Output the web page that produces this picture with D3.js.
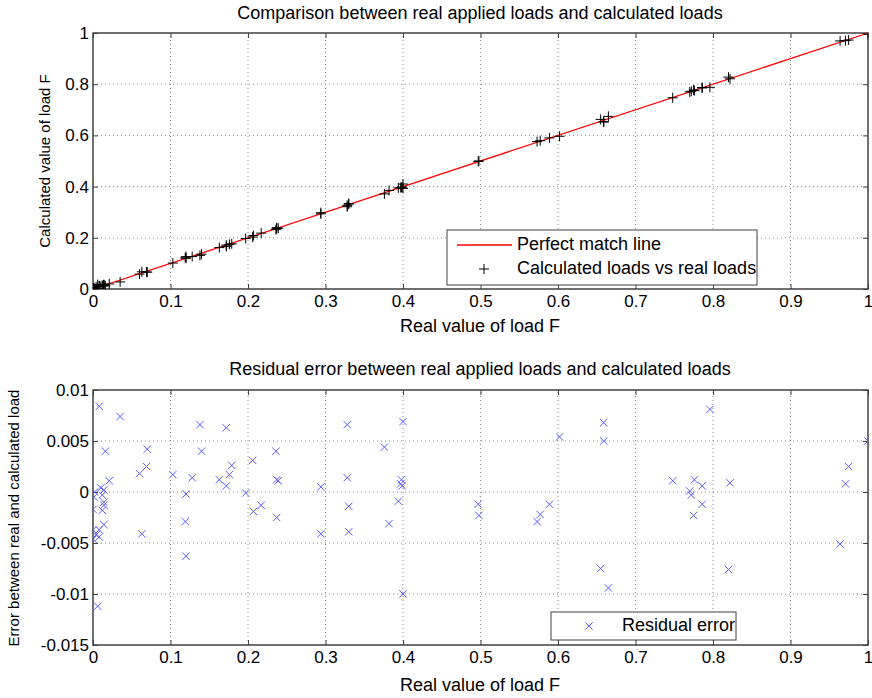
<!DOCTYPE html>
<html>
<head>
<meta charset="utf-8">
<script src="https://cdn.jsdelivr.net/npm/d3@7"></script>
<style>
  body { margin: 0; background: #fff; }
  svg text { font-family: "Liberation Sans", Arial, sans-serif; fill: #000; }
</style>
</head>
<body>
<div id="chart"></div>
<script>
// real applied load (normalised) for each test case
const realLoad = [
  0.002, 0.001, 0.000, 0.010, 0.014, 0.012, 0.014, 0.014, 0.012, 0.014,
  0.008, 0.000, 0.004, 0.008, 0.000, 0.021, 0.016, 0.008, 0.035, 0.006,
  0.070, 0.069, 0.060, 0.063, 0.103, 0.128, 0.120, 0.119, 0.120, 0.138,
  0.140, 0.172, 0.179, 0.163, 0.176, 0.172, 0.197, 0.206, 0.217, 0.207,
  0.236, 0.237, 0.239, 0.237, 0.294, 0.294, 0.328, 0.328, 0.330, 0.330,
  0.376, 0.382, 0.394, 0.398, 0.397, 0.399, 0.400, 0.400, 0.497, 0.498,
  0.573, 0.577, 0.589, 0.602, 0.659, 0.659, 0.655, 0.665, 0.748, 0.770,
  0.772, 0.775, 0.776, 0.786, 0.786, 0.796, 0.822, 0.820, 0.964, 0.971,
  0.975, 1.000
];

// load returned by the model
const calcLoad = [
  0.0020, 0.0015, 0.0017, 0.0096, 0.0138, 0.0123, 0.0150, 0.0153, 0.0138, 0.0172,
  0.0117, 0.0037, 0.0082, 0.0124, 0.0046, 0.0199, 0.0120, -0.0004, 0.0276, 0.0172,
  0.0658, 0.0665, 0.0582, 0.0671, 0.1013, 0.1266, 0.1202, 0.1219, 0.1263, 0.1314,
  0.1360, 0.1657, 0.1764, 0.1618, 0.1743, 0.1714, 0.1971, 0.2029, 0.2183, 0.2089,
  0.2320, 0.2358, 0.2379, 0.2395, 0.2935, 0.2981, 0.3214, 0.3266, 0.3314, 0.3339,
  0.3716, 0.3851, 0.3949, 0.3968, 0.3962, 0.3984, 0.3931, 0.4100, 0.4982, 0.5003,
  0.5759, 0.5792, 0.5902, 0.5966, 0.6522, 0.6540, 0.6625, 0.6744, 0.7469, 0.7699,
  0.7723, 0.7773, 0.7748, 0.7854, 0.7872, 0.7879, 0.8211, 0.8276, 0.9691, 0.9702,
  0.9725, 0.9950
];

// residual error (real - calculated)
const residualErr = [
  0.0000, -0.0005, -0.0017, 0.0004, 0.0002, -0.0003, -0.0010, -0.0013, -0.0018, -0.0032,
  -0.0037, -0.0037, -0.0042, -0.0044, -0.0046, 0.0011, 0.0040, 0.0084, 0.0074, -0.0112,
  0.0042, 0.0025, 0.0018, -0.0041, 0.0017, 0.0014, -0.0002, -0.0029, -0.0063, 0.0066,
  0.0040, 0.0063, 0.0026, 0.0012, 0.0017, 0.0006, -0.0001, 0.0031, -0.0013, -0.0019,
  0.0040, 0.0012, 0.0011, -0.0025, 0.0005, -0.0041, 0.0066, 0.0014, -0.0014, -0.0039,
  0.0044, -0.0031, -0.0009, 0.0012, 0.0008, 0.0006, 0.0069, -0.0100, -0.0012, -0.0023,
  -0.0029, -0.0022, -0.0012, 0.0054, 0.0068, 0.0050, -0.0075, -0.0094, 0.0011, 0.0001,
  -0.0003, -0.0023, 0.0012, 0.0006, -0.0012, 0.0081, 0.0009, -0.0076, -0.0051, 0.0008,
  0.0025, 0.0050
];

const matchLine = [0, 1];
const xTicks = [0, 0.1, 0.2, 0.3, 0.4, 0.5, 0.6, 0.7, 0.8, 0.9, 1];
const yTicksTop = [0, 0.2, 0.4, 0.6, 0.8, 1];
const yTicksBottom = [0.01, 0.005, 0, -0.005, -0.01, -0.015];

const W = 872, H = 698;
const axisColor = "#404040";
const fs = 18;      // titles, x labels, legends
const tickFs = 17;  // tick labels
const yLabFs = 15;  // rotated y labels

const svg = d3.select("#chart").append("svg")
  .attr("width", W)
  .attr("height", H);

const fmt = d => d3.format("~g")(+d.toFixed(4)).replace("−", "-");

// MATLAB-ish box axes: inward ticks on all sides, dotted grid
function drawFrame(g, x, y, xt, yt) {
  const [x0, x1] = x.range();
  const [y0, y1] = y.range(); // y0 = bottom

  // grid
  g.append("g").selectAll("line").data(xt.filter(d => d > x.domain()[0] && d < x.domain()[1]))
    .join("line")
    .attr("x1", d => x(d)).attr("x2", d => x(d))
    .attr("y1", y0).attr("y2", y1)
    .attr("stroke", "#8a8a8a").attr("stroke-width", 1)
    .attr("stroke-dasharray", "1,3");
  g.append("g").selectAll("line").data(yt.filter(d => d > y.domain()[0] && d < y.domain()[1]))
    .join("line")
    .attr("y1", d => y(d)).attr("y2", d => y(d))
    .attr("x1", x0).attr("x2", x1)
    .attr("stroke", "#8a8a8a").attr("stroke-width", 1)
    .attr("stroke-dasharray", "1,3");

  const tick = 5;
  const style = sel => {
    sel.select(".domain").remove();
    sel.selectAll("line").attr("stroke", axisColor);
    sel.selectAll("text").style("font-size", tickFs + "px")
      .attr("fill", "#000");
  };

  g.append("g").attr("transform", `translate(0,${y0})`)
    .call(d3.axisBottom(x).tickValues(xt).tickFormat(fmt).tickSizeInner(-tick).tickSizeOuter(0).tickPadding(6))
    .call(style);
  g.append("g").attr("transform", `translate(0,${y1})`)
    .call(d3.axisTop(x).tickValues(xt).tickFormat("").tickSizeInner(-tick).tickSizeOuter(0))
    .call(style);
  g.append("g").attr("transform", `translate(${x0},0)`)
    .call(d3.axisLeft(y).tickValues(yt).tickFormat(fmt).tickSizeInner(-tick).tickSizeOuter(0).tickPadding(4))
    .call(style);
  g.append("g").attr("transform", `translate(${x1},0)`)
    .call(d3.axisRight(y).tickValues(yt).tickFormat("").tickSizeInner(-tick).tickSizeOuter(0))
    .call(style);

  g.append("rect")
    .attr("x", x0).attr("y", y1)
    .attr("width", x1 - x0).attr("height", y0 - y1)
    .attr("fill", "none").attr("stroke", axisColor).attr("stroke-width", 1.5);
}

function plusPath(s) { return `M${-s},0H${s}M0,${-s}V${s}`; }
function crossPath(s) { return `M${-s},${-s}L${s},${s}M${-s},${s}L${s},${-s}`; }

const left = 93, right = 868;

// ---------- top panel ----------
const xTop = d3.scaleLinear().domain([0, 1]).range([left, right]);
const yTop = d3.scaleLinear().domain([0, 1]).range([289, 33]);
const gTop = svg.append("g");

svg.append("clipPath").attr("id", "clipTop").append("rect")
  .attr("x", left).attr("y", 33).attr("width", right - left).attr("height", 256);

drawFrame(gTop, xTop, yTop, xTicks, yTicksTop);

gTop.append("path")
  .datum(matchLine)
  .attr("d", d3.line().x(d => xTop(d)).y(d => yTop(d)))
  .attr("stroke", "#ff0000").attr("stroke-width", 1.3).attr("fill", "none");

gTop.append("g").attr("clip-path", "url(#clipTop)")
  .selectAll("path").data(realLoad)
  .join("path")
  .attr("transform", (d, i) => `translate(${xTop(d)},${yTop(calcLoad[i])})`)
  .attr("d", plusPath(5))
  .attr("stroke", "#000").attr("stroke-width", 1).attr("fill", "none");

svg.append("text").attr("x", 480).attr("y", 14).attr("text-anchor", "middle")
  .attr("dominant-baseline", "middle").style("font-size", fs + "px")
  .text("Comparison between real applied loads and calculated loads");
svg.append("text").attr("x", 480).attr("y", 327).attr("text-anchor", "middle")
  .attr("dominant-baseline", "middle").style("font-size", fs + "px")
  .text("Real value of load F");
svg.append("text").attr("transform", "translate(46,161) rotate(-90)").attr("text-anchor", "middle")
  .attr("dominant-baseline", "middle").style("font-size", yLabFs + "px")
  .text("Calculated value of load F");

// legend top
const lgTop = svg.append("g");
lgTop.append("rect").attr("x", 447).attr("y", 230).attr("width", 310).attr("height", 55)
  .attr("fill", "#fff").attr("stroke", axisColor).attr("stroke-width", 1);
lgTop.append("line").attr("x1", 457).attr("x2", 512).attr("y1", 245).attr("y2", 245)
  .attr("stroke", "#ff0000").attr("stroke-width", 1.3);
lgTop.append("text").attr("x", 517).attr("y", 245).attr("dominant-baseline", "middle")
  .style("font-size", fs + "px").text("Perfect match line");
lgTop.append("path").attr("transform", "translate(484,269)").attr("d", plusPath(5))
  .attr("stroke", "#000").attr("fill", "none");
lgTop.append("text").attr("x", 517).attr("y", 269).attr("dominant-baseline", "middle")
  .style("font-size", fs + "px").text("Calculated loads vs real loads");

// ---------- bottom panel ----------
const xBot = d3.scaleLinear().domain([0, 1]).range([left, right]);
const yBot = d3.scaleLinear().domain([-0.015, 0.01]).range([645, 390]);
const gBot = svg.append("g");

svg.append("clipPath").attr("id", "clipBot").append("rect")
  .attr("x", left).attr("y", 390).attr("width", right - left).attr("height", 255);

drawFrame(gBot, xBot, yBot, xTicks, yTicksBottom);

gBot.append("g").attr("clip-path", "url(#clipBot)")
  .selectAll("path").data(realLoad)
  .join("path")
  .attr("transform", (d, i) => `translate(${xBot(d)},${yBot(residualErr[i])})`)
  .attr("d", crossPath(3.7))
  .attr("stroke", "#5a5aff").attr("stroke-width", 1).attr("fill", "none");

svg.append("text").attr("x", 480).attr("y", 370).attr("text-anchor", "middle")
  .attr("dominant-baseline", "middle").style("font-size", fs + "px")
  .text("Residual error between real applied loads and calculated loads");
svg.append("text").attr("x", 480).attr("y", 686).attr("text-anchor", "middle")
  .attr("dominant-baseline", "middle").style("font-size", fs + "px")
  .text("Real value of load F");
svg.append("text").attr("transform", "translate(15,518) rotate(-90)").attr("text-anchor", "middle")
  .attr("dominant-baseline", "middle").style("font-size", yLabFs + "px")
  .text("Error between real and calculated load");

// legend bottom
const lgBot = svg.append("g");
lgBot.append("rect").attr("x", 551).attr("y", 612).attr("width", 185).attr("height", 28)
  .attr("fill", "#fff").attr("stroke", axisColor).attr("stroke-width", 1);
lgBot.append("path").attr("transform", "translate(589,626)").attr("d", crossPath(3.7))
  .attr("stroke", "#5a5aff").attr("fill", "none");
lgBot.append("text").attr("x", 622).attr("y", 626).attr("dominant-baseline", "middle")
  .style("font-size", fs + "px").text("Residual error");
</script>
</body>
</html>
